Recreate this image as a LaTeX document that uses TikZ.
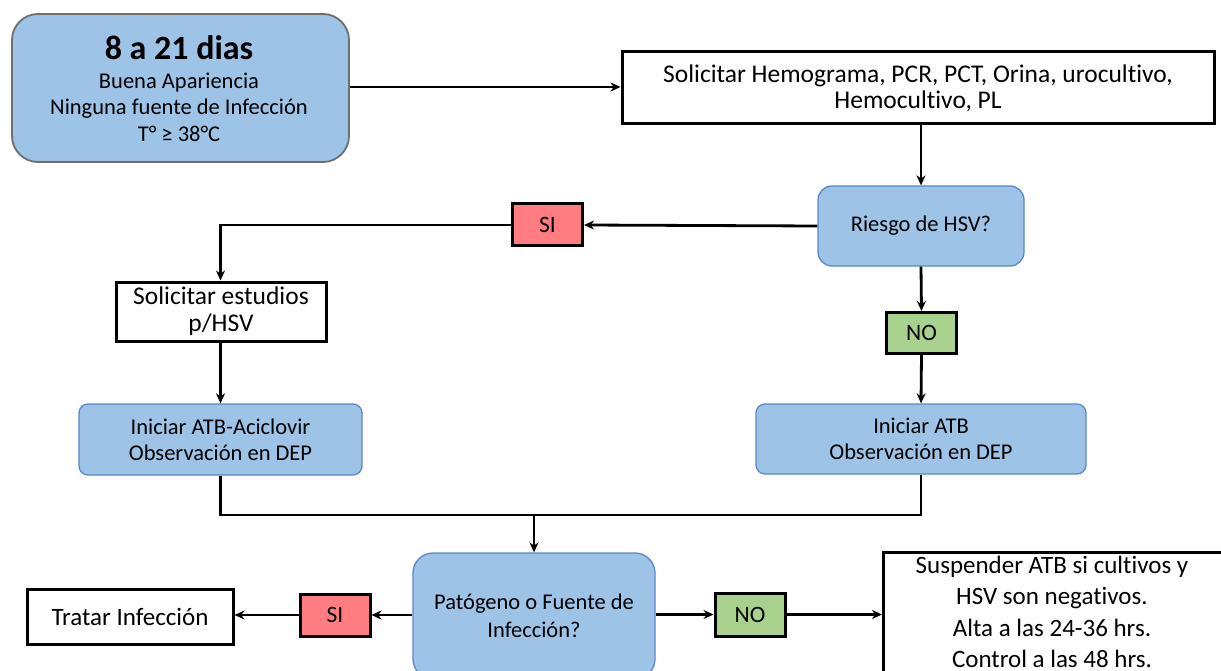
\documentclass[tikz,border=0pt]{standalone}
\usepackage{fontspec}
\setmainfont[Ligatures=NoCommon]{Carlito}
\usetikzlibrary{arrows.meta}
\definecolor{boxblue}{HTML}{9DC3E6}
\definecolor{blueedge}{HTML}{5B87C8}
\definecolor{greyedge}{HTML}{6E6E6E}
\definecolor{sired}{HTML}{FF7C80}
\definecolor{nogreen}{HTML}{A9D18E}
\tikzset{
  flow/.style={line width=2.8pt, -{Stealth[length=10pt,width=9pt]}},
  plain/.style={line width=2.8pt},
  bluebox/.style={draw=blueedge, fill=boxblue, line width=1.3pt, rounded corners=14pt, align=center, inner sep=0pt},
  whitebox/.style={draw=black, fill=white, line width=3pt, align=center, inner sep=0pt},
  sibox/.style={draw=black, fill=sired, line width=3pt, inner sep=0pt, minimum width=70pt, minimum height=42pt, font=\fontsize{23.5}{26}\selectfont},
  nobox/.style={draw=black, fill=nogreen, line width=3pt, inner sep=0pt, minimum width=70pt, minimum height=41pt, font=\fontsize{23.5}{26}\selectfont},
}
\begin{document}
\begin{tikzpicture}[x=1pt,y=-1pt]
\useasboundingbox (0,0) rectangle (1221,671);
\clip (0,0) rectangle (1221,671);

% start box
\node[bluebox, draw=greyedge, line width=1.8pt, rounded corners=26pt, minimum width=337pt, minimum height=148pt] (start) at (180.5,88) {};
\node (title) at (179,48) {\fontsize{34}{38}\selectfont\bfseries 8 a 21 dias};
\node[align=center, font=\fontsize{22.5}{26.5}\selectfont] (starttxt) at (179,107) {Buena Apariencia\\Ninguna fuente de Infección\\T° ≥ 38°C};

% first studies
\node[whitebox, minimum width=592pt, minimum height=72pt, font=\fontsize{25.5}{26}\selectfont] (labs) at (918,88) {Solicitar Hemograma, PCR, PCT, Orina, urocultivo,\\Hemocultivo, PL};

% HSV risk
\node[bluebox, minimum width=206pt, minimum height=80pt, font=\fontsize{22.5}{26}\selectfont] (hsv) at (921,226) {Riesgo de HSV?};
\node[sibox] (si1) at (547.5,225) {SI};
\node[nobox] (no1) at (921.5,333) {NO};

\node[whitebox, minimum width=210pt, minimum height=59pt, font=\fontsize{25.5}{27}\selectfont] (hsvlab) at (221,311.5) {Solicitar estudios\\p/HSV};

\node[bluebox, rounded corners=9pt, minimum width=283pt, minimum height=71pt, font=\fontsize{22.5}{26}\selectfont] (aciclo) at (220.5,439.5) {Iniciar ATB-Aciclovir\\Observación en DEP};
\node[bluebox, rounded corners=9pt, minimum width=330pt, minimum height=70pt, font=\fontsize{22.5}{26}\selectfont] (atb) at (921,439) {Iniciar ATB\\Observación en DEP};

% source of infection
\node[bluebox, rounded corners=20pt, minimum width=242pt, minimum height=126pt, font=\fontsize{22.5}{28}\selectfont] (src) at (534,616) {Patógeno o Fuente de\\Infección?};
\node[sibox] (si2) at (335,615) {SI};
\node[whitebox, minimum width=206pt, minimum height=55pt, font=\fontsize{25}{27}\selectfont] (treat) at (130,616.5) {Tratar Infección};
\node[nobox, minimum height=43pt] (no2) at (750,614.5) {NO};
\node[whitebox, minimum width=342pt, minimum height=126pt, anchor=north west] (susp) at (882,551) {};
\node[align=center, font=\fontsize{25}{31.5}\selectfont] (susptxt) at (1052,612) {Suspender ATB si cultivos y\\HSV son negativos.\\Alta a las 24-36 hrs.\\Control a las 48 hrs.};

% connectors
\coordinate (join) at (534,515);
\draw[flow] (start.east |- 0,87) -- (labs.west |- 0,87);
\draw[flow] (labs.south -| hsv.north) -- (hsv.north);
\draw[flow] (hsv.west) -- (si1.east);
\draw[flow] (si1.west) -| (hsvlab.north -| aciclo.north);
\draw[flow] (hsvlab.south -| aciclo.north) -- (aciclo.north);
\draw[flow] (hsv.south) -- (no1.north);
\draw[flow] (no1.south) -- (atb.north);
\draw[plain] (aciclo.south) |- (join) -| (atb.south);
\draw[flow] (join) -- (src.north);
\draw[flow] (src.west |- si2) -- (si2.east);
\draw[flow] (si2.west) -- (treat.east |- si2);
\draw[flow] (src.east |- no2) -- (no2.west);
\draw[flow] (no2.east) -- (susp.west |- no2);
\end{tikzpicture}
\end{document}
